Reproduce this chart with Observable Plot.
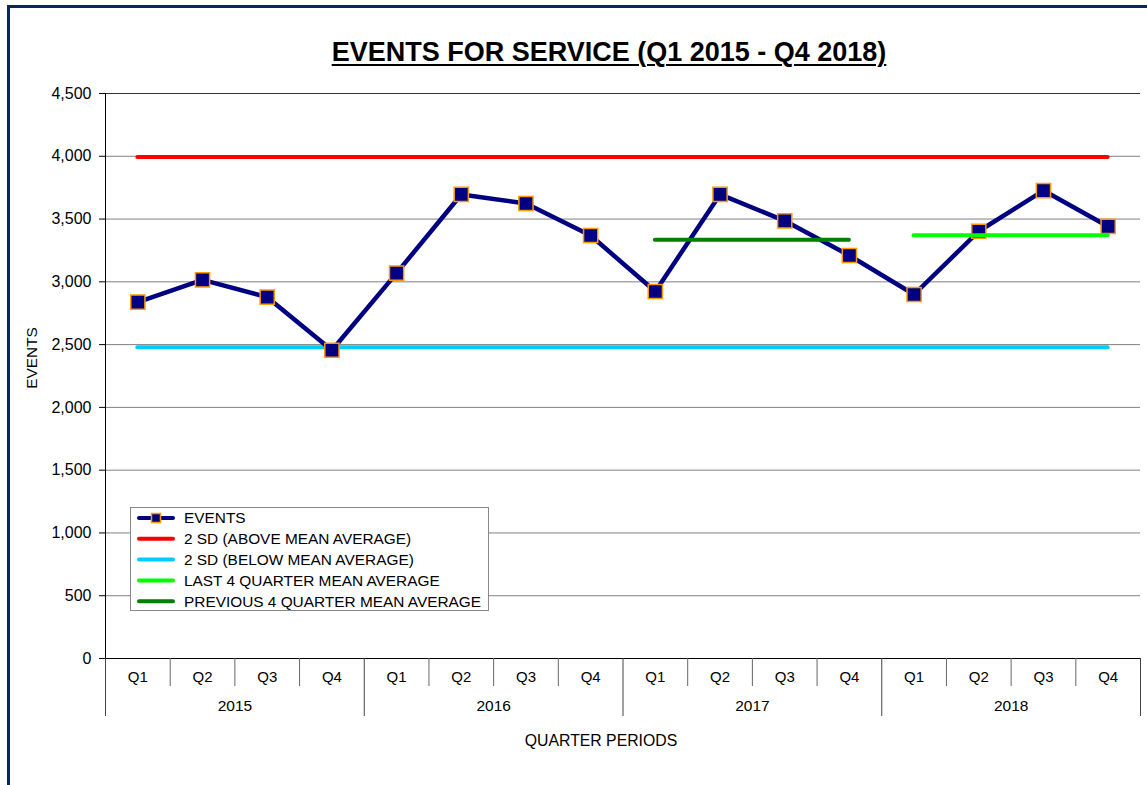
<!DOCTYPE html>
<html>
<head>
<meta charset="utf-8">
<script src="https://cdn.jsdelivr.net/npm/d3@7"></script>
<script src="https://cdn.jsdelivr.net/npm/@observablehq/plot@0.6"></script>
<style>
  html, body { margin: 0; padding: 0; background: #fff; overflow: hidden; }
  body { font-family: "Liberation Sans", Arial, sans-serif; }
  #wrap { position: relative; width: 1147px; height: 785px; overflow: hidden; background: #fff; }
  #frame { position: absolute; left: 7px; top: 5px; width: 1400px; height: 1000px;
           border-left: 3px solid #0b2760; border-top: 3px solid #0b2760; }
  #title { position: absolute; left: 0; width: 1218px; top: 39px; text-align: center;
           font-weight: bold; font-size: 27px; line-height: 27px; text-decoration: underline;
           text-decoration-thickness: 2px; text-underline-offset: 3px; color: #000; }
  #chart { position: absolute; left: 0; top: 0; }
  #legend { position: absolute; left: 130px; top: 507px; width: 357px; height: 102px;
            border: 1px solid #888; background: #fff; }
</style>
</head>
<body>
<div id="wrap">
  <div id="frame"></div>
  <div id="chart"></div>
  <div id="title"></div>
  <div id="legend"></div>
</div>
<script>
// ---- data ----
const years = ["2015", "2016", "2017", "2018"];
const quarters = ["Q1", "Q2", "Q3", "Q4"];
const events = [2838, 3016, 2878, 2455, 3069, 3696, 3624, 3369,
                2923, 3696, 3486, 3210, 2899, 3403, 3727, 3441];
const sdAbove = 3995;          // 2 SD (above mean average)
const sdBelow = 2479;          // 2 SD (below mean average)
const prev4Mean = 3335;        // previous 4 quarter mean (2017)
const last4Mean = 3371;        // last 4 quarter mean (2018)
const prev4Periods = [8, 11];  // 2017 Q1 .. 2017 Q4
const last4Periods = [12, 15]; // 2018 Q1 .. 2018 Q4
const yTicks = [0, 500, 1000, 1500, 2000, 2500, 3000, 3500, 4000, 4500];
const titleText = "EVENTS FOR SERVICE (Q1 2015 - Q4 2018)";
const yLabel = "EVENTS";
const xLabel = "QUARTER PERIODS";
const legendLabels = ["EVENTS", "2 SD (ABOVE MEAN AVERAGE)", "2 SD (BELOW MEAN AVERAGE)",
                      "LAST 4 QUARTER MEAN AVERAGE", "PREVIOUS 4 QUARTER MEAN AVERAGE"];
const legendColors = ["#000080", "#ff0000", "#00ccff", "#00ff00", "#008000"];

// ---- derived table ----
const periods = [];
years.forEach(y => quarters.forEach(q => periods.push({year: y, quarter: q})));
const rows = periods.map((p, i) => ({...p, i, pos: i + 0.5, value: events[i]}));
const centers = rows.map(d => d.pos);
const quarterSeps = d3.range(1, 16).filter(i => i % 4 !== 0);
const yearSeps = d3.range(0, 17, 4);
const yearCenters = years.map((y, k) => k * 4 + 2);
const first = rows[0].pos, last = rows[rows.length - 1].pos;

const navy = legendColors[0], orange = "#ff9900";
const FONT = '"Liberation Sans", Arial, sans-serif';

const plot = Plot.plot({
  width: 1147,
  height: 785,
  marginLeft: 105,
  marginRight: 7,
  marginTop: 93,
  marginBottom: 127,
  style: {fontFamily: FONT, fontSize: "15px", background: "transparent", color: "#000"},
  x: {domain: [0, 16], axis: null},
  y: {domain: [0, 4500], axis: null},
  marks: [
    Plot.gridY(yTicks, {stroke: "#808080", strokeOpacity: 1}),
    Plot.ruleY([4500], {stroke: "#333"}),
    Plot.ruleY([0], {stroke: "#000"}),
    Plot.ruleX([0], {stroke: "#000"}),
    Plot.axisY(yTicks, {tickSize: 6, tickPadding: 8, tickFormat: d3.format(","), fontSize: 16, label: null, stroke: "#000"}),
    Plot.axisX(centers, {tickSize: 0, tickPadding: 13, tickFormat: d => rows[Math.floor(d)].quarter, label: null, fontSize: 15}),
    Plot.axisX(quarterSeps, {tickSize: 28, tickFormat: () => "", label: null, stroke: "#666"}),
    Plot.axisX(yearSeps, {tickSize: 58, tickFormat: () => "", label: null, stroke: "#444"}),
    Plot.axisX(yearCenters, {tickSize: 0, tickPadding: 41, tickFormat: d => years[(d - 2) / 4], label: null, fontSize: 15.5}),
    Plot.text([yLabel], {frameAnchor: "left", textAnchor: "middle", rotate: -90, dx: -73, dy: -18, fontSize: 15.4}),
    Plot.text([xLabel], {frameAnchor: "bottom", textAnchor: "middle", dx: -22, dy: 87, fontSize: 15.8}),
    Plot.ruleY([sdAbove], {x1: first, x2: last, stroke: legendColors[1], strokeWidth: 4, strokeLinecap: "round"}),
    Plot.ruleY([sdBelow], {x1: first, x2: last, stroke: legendColors[2], strokeWidth: 4, strokeLinecap: "round"}),
    Plot.line(rows, {x: "pos", y: "value", stroke: navy, strokeWidth: 4.5}),
    Plot.ruleY([prev4Mean], {x1: rows[prev4Periods[0]].pos, x2: rows[prev4Periods[1]].pos, stroke: legendColors[4], strokeWidth: 4, strokeLinecap: "round"}),
    Plot.dot(rows, {x: "pos", y: "value", symbol: "square", r: 8, fill: navy, stroke: orange, strokeWidth: 1.5}),
    Plot.ruleY([last4Mean], {x1: rows[last4Periods[0]].pos, x2: rows[last4Periods[1]].pos, stroke: legendColors[3], strokeWidth: 4, strokeLinecap: "round"})
  ]
});
document.getElementById("chart").appendChild(plot);
document.getElementById("title").textContent = titleText;

// ---- legend ----
const lg = d3.select("#legend").append("svg").attr("width", 357).attr("height", 102)
  .style("font-family", FONT).style("font-size", "15.4px");
const rowY = k => 10 + k * 20.8;
legendLabels.forEach((lab, k) => {
  const g = lg.append("g").attr("transform", `translate(0,${rowY(k)})`);
  g.append("line").attr("x1", 8).attr("x2", 42).attr("y1", 0).attr("y2", 0)
    .attr("stroke", legendColors[k]).attr("stroke-width", 4).attr("stroke-linecap", "round");
  if (k === 0) {
    g.append("rect").attr("x", 20.5).attr("y", -4.5).attr("width", 9).attr("height", 9)
      .attr("fill", navy).attr("stroke", orange).attr("stroke-width", 1.5);
  }
  g.append("text").attr("x", 53).attr("y", 0).attr("dy", "0.35em").attr("fill", "#000").text(lab);
});
</script>
</body>
</html>
